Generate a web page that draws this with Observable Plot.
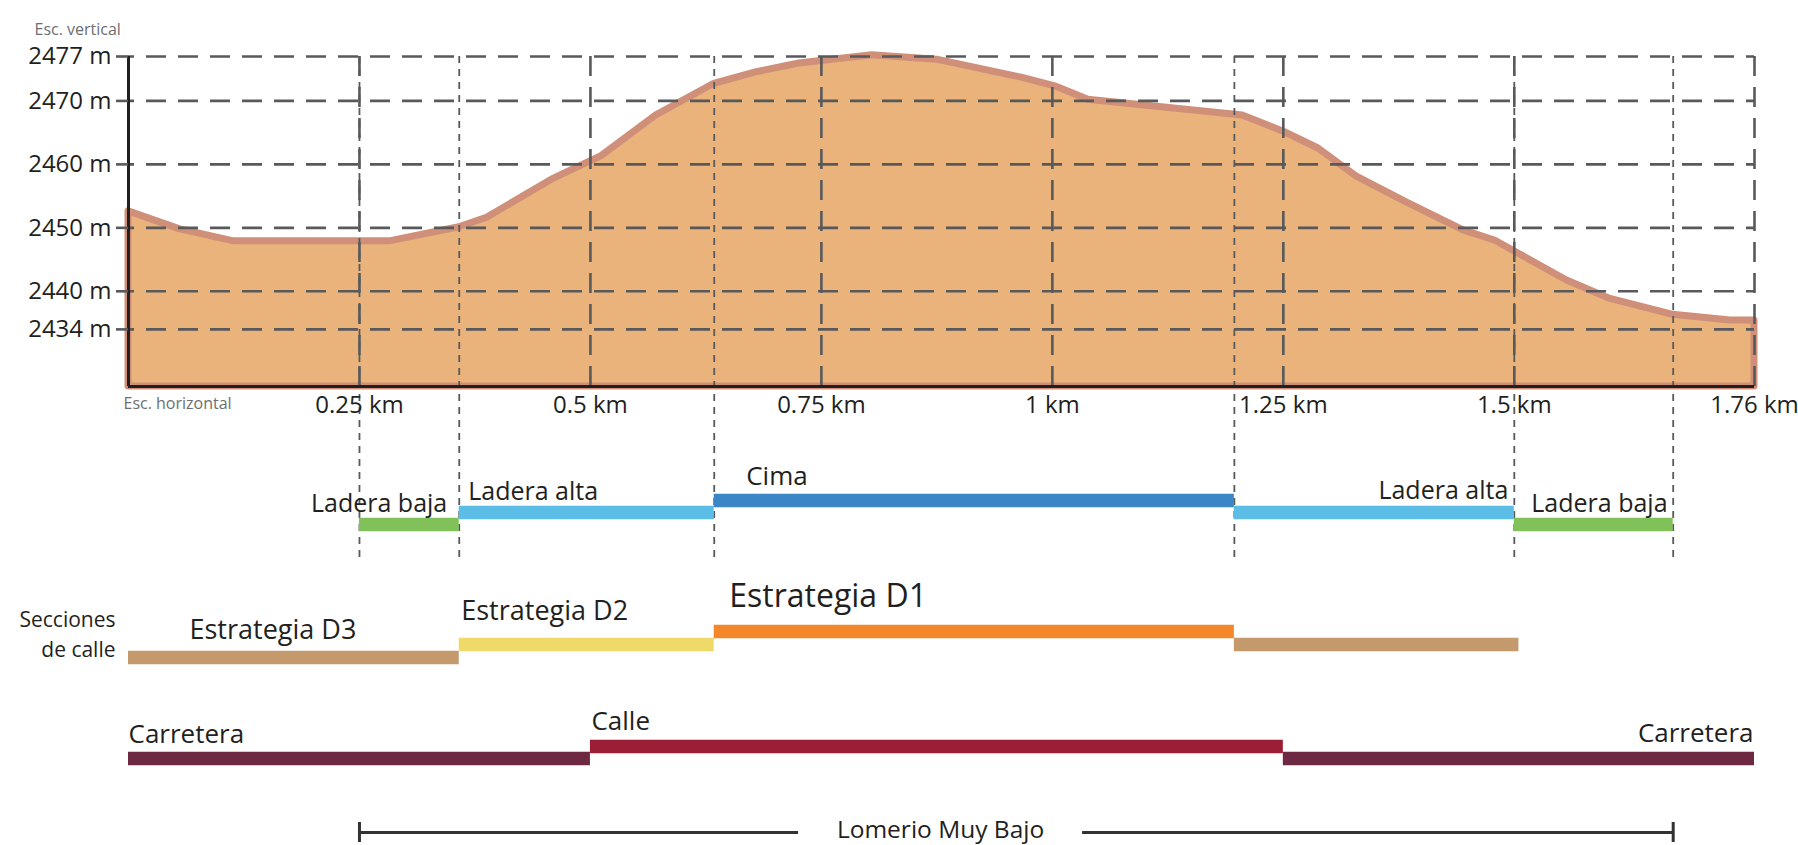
<!DOCTYPE html>
<html>
<head>
<meta charset="utf-8">
<script src="https://cdn.jsdelivr.net/npm/d3@7"></script>
<script src="https://cdn.jsdelivr.net/npm/@observablehq/plot@0.6"></script>
<style>
  html, body { margin: 0; padding: 0; background: #fff; }
  #chart svg { display: block; }
</style>
</head>
<body>
<div id="chart"></div>
<script>
// ---------- data ----------
const profileKm   = [0, 0.055, 0.113, 0.284, 0.358, 0.388, 0.461, 0.512, 0.571, 0.634, 0.679, 0.726, 0.805, 0.875, 0.969, 1.003, 1.039, 1.206, 1.251, 1.288, 1.329, 1.385, 1.445, 1.479, 1.557, 1.602, 1.672, 1.734, 1.76];
const profileElev = [2452.6, 2449.8, 2447.9, 2447.9, 2450.1, 2451.6, 2457.8, 2461.3, 2467.7, 2472.7, 2474.5, 2475.9, 2477.2, 2476.5, 2473.6, 2472.3, 2470.2, 2467.7, 2465.1, 2462.5, 2458.1, 2453.9, 2449.6, 2448.0, 2441.7, 2438.9, 2436.3, 2435.4, 2435.4];
const elevTicks = [2434, 2440, 2450, 2460, 2470, 2477];
const kmTicks   = [0.25, 0.5, 0.75, 1, 1.25, 1.5, 1.76];

const zoneNames = ["Ladera baja", "Ladera alta", "Cima", "Ladera alta", "Ladera baja"];
const zoneStart = [0.25, 0.358, 0.634, 1.197, 1.5];
const zoneEnd   = [0.358, 0.634, 1.197, 1.5, 1.672];
const zoneLevel = ["bajo", "medio", "alto", "medio", "bajo"];

const streetNames = ["Estrategia D3", "Estrategia D2", "Estrategia D1", "Estrategia D3"];
const streetStart = [0, 0.358, 0.634, 1.197];
const streetEnd   = [0.358, 0.634, 1.197, 1.505];
const streetLevel = ["bajo", "medio", "alto", "medio"];

const roadNames = ["Carretera", "Calle", "Carretera"];
const roadStart = [0, 0.5, 1.25];
const roadEnd   = [0.5, 1.25, 1.76];
const roadLevel = ["medio", "alto", "medio"];

const rangeName  = "Lomerio Muy Bajo";
const rangeStart = 0.25;
const rangeEnd   = 1.672;
const rangeLabelKm = 0.879;

// ---------- styling ----------
const categoryNames  = ["Ladera baja", "Ladera alta", "Cima", "Estrategia D3", "Estrategia D2", "Estrategia D1", "Carretera", "Calle"];
const categoryColors = ["#80c159", "#5cbde6", "#3b87c6", "#c49a6c", "#efd968", "#f4872a", "#6e2841", "#9b1e36"];
const W = 1798, ML = 128, MR = 44;
const FONT = "'Open Sans', sans-serif";
const INK = "#231f20", GRID = "#58595b";
const BAR = 13.5;

const seg = (names, starts, ends, levels) => names.map((name, i) => ({name, start: starts[i], end: ends[i], level: levels[i]}));
const profile = profileKm.map((km, i) => ({km, elev: profileElev[i]}));
const zones = seg(zoneNames, zoneStart, zoneEnd, zoneLevel);
const streets = seg(streetNames, streetStart, streetEnd, streetLevel);
const roads = seg(roadNames, roadStart, roadEnd, roadLevel);
const bounds = [...zoneStart, zoneEnd[zoneEnd.length - 1]];

const colorScale = {domain: categoryNames, range: categoryColors};
const xScale = {domain: [0, 1.76], axis: null, label: null};

function label(d, anchor, dx, dy, fontSize) {
  return Plot.text([d], {
    x: anchor === "end" ? "end" : "start", y: "level", text: "name",
    textAnchor: anchor, dx, dy, fontSize, fill: INK
  });
}
function bars(data) {
  return Plot.ruleY(data, {x1: "start", x2: "end", y: "level", stroke: "name", strokeWidth: BAR});
}

// ---------- chart 1: elevation profile ----------
const profileChart = Plot.plot({
  width: W, height: 420,
  marginLeft: ML, marginRight: MR, marginTop: 56, marginBottom: 34,
  style: {fontFamily: FONT, background: "#fff"},
  x: {domain: [0, 1.76], label: null},
  y: {domain: [2425, 2477], label: null},
  marks: [
    Plot.areaY(profile, {x: "km", y1: 2425, y2: "elev", fill: "#e9b37b", stroke: "#cf8f79", strokeWidth: 7, strokeLinejoin: "round"}),
    Plot.ruleY(elevTicks, {stroke: GRID, strokeWidth: 2.6, strokeDasharray: "20,12", strokeDashoffset: -18}),
    Plot.ruleX(kmTicks, {stroke: GRID, strokeWidth: 2.6, strokeDasharray: "20,11"}),
    Plot.ruleX(bounds, {stroke: GRID, strokeWidth: 1.8, strokeDasharray: "7,6", insetBottom: -34}),
    Plot.ruleX([0], {stroke: INK, strokeWidth: 3}),
    Plot.ruleY([2425], {stroke: INK, strokeWidth: 3}),
    Plot.axisY(elevTicks, {tickSize: 12, tickPadding: 5, fontSize: 24, tickFormat: d => `${d} m`, stroke: GRID, strokeWidth: 2.6, fill: INK, label: null}),
    Plot.axisX(kmTicks, {tickSize: 0, tickPadding: 9, fontSize: 24, tickFormat: d => `${d} km`, fill: INK, label: null}),
    Plot.text(["Esc. vertical"], {frameAnchor: "top-left", text: d => d, textAnchor: "start", dx: -94, dy: -33, fontSize: 16, fill: "#6d6e71"}),
    Plot.text(["Esc. horizontal"], {frameAnchor: "bottom-left", text: d => d, textAnchor: "start", dx: -5, dy: 22, fontSize: 16, fill: "#6d6e71"})
  ]
});

// ---------- chart 2: landform zones ----------
const zoneChart = Plot.plot({
  width: W, height: 150,
  marginLeft: ML, marginRight: MR, marginTop: 79, marginBottom: 46,
  style: {fontFamily: FONT, background: "#fff"},
  x: xScale,
  y: {type: "point", domain: ["alto", "medio", "bajo"], padding: 0, axis: null},
  color: colorScale,
  marks: [
    Plot.ruleX(bounds, {stroke: GRID, strokeWidth: 1.8, strokeDasharray: "7,6", insetTop: -79, insetBottom: -39}),
    bars(zones),
    label(zones[0], "end", -12, -21, 25),
    label(zones[1], "start", 9, -21, 25),
    label(zones[2], "start", 32, -24, 26),
    label(zones[3], "end", -6, -22, 25),
    label(zones[4], "start", 17, -21, 25)
  ]
});

// ---------- chart 3: street sections ----------
const streetChart = Plot.plot({
  width: W, height: 120,
  marginLeft: ML, marginRight: MR, marginTop: 61, marginBottom: 32.5,
  style: {fontFamily: FONT, background: "#fff"},
  x: xScale,
  y: {type: "point", domain: ["alto", "medio", "bajo"], padding: 0, axis: null},
  color: colorScale,
  marks: [
    bars(streets),
    label(streets[0], "start", 61, -27, 27),
    label(streets[1], "start", 2, -33, 27),
    label(streets[2], "start", 15, -34.5, 32),
    Plot.text(["Secciones"], {x: 0, y: ["bajo"], text: d => d, textAnchor: "end", dx: -13, dy: -37, fontSize: 21, fill: INK}),
    Plot.text(["de calle"], {x: 0, y: ["bajo"], text: d => d, textAnchor: "end", dx: -13, dy: -7, fontSize: 21, fill: INK})
  ]
});

// ---------- chart 4: road type ----------
const roadChart = Plot.plot({
  width: W, height: 100,
  marginLeft: ML, marginRight: MR, marginTop: 55.5, marginBottom: 32.3,
  style: {fontFamily: FONT, background: "#fff"},
  x: xScale,
  y: {type: "point", domain: ["alto", "medio"], padding: 0, axis: null},
  color: colorScale,
  marks: [
    bars(roads),
    label(roads[0], "start", 0, -23.5, 26),
    label(roads[1], "start", 1, -24.5, 26),
    label(roads[2], "end", -1, -24.5, 26)
  ]
});

// ---------- chart 5: landform extent ----------
const GAP = 142; // half label width + breathing room, px
const rangeChart = Plot.plot({
  width: W, height: 55,
  marginLeft: ML, marginRight: MR, marginTop: 32, marginBottom: 3,
  style: {fontFamily: FONT, background: "#fff"},
  x: xScale,
  y: {domain: [-1, 1], axis: null},
  marks: [
    Plot.ruleY([0], {x1: rangeStart, x2: rangeLabelKm, insetRight: GAP, stroke: "#333", strokeWidth: 3}),
    Plot.ruleY([0], {x1: rangeLabelKm, x2: rangeEnd, insetLeft: GAP, stroke: "#333", strokeWidth: 3}),
    Plot.ruleX([rangeStart, rangeEnd], {stroke: "#333", strokeWidth: 3}),
    Plot.text([rangeName], {x: rangeLabelKm, y: 0, text: d => d, dy: -2, fontSize: 24.5, fill: INK})
  ]
});

const root = document.getElementById("chart");
[profileChart, zoneChart, streetChart, roadChart, rangeChart].forEach(c => root.appendChild(c));
</script>
</body>
</html>
